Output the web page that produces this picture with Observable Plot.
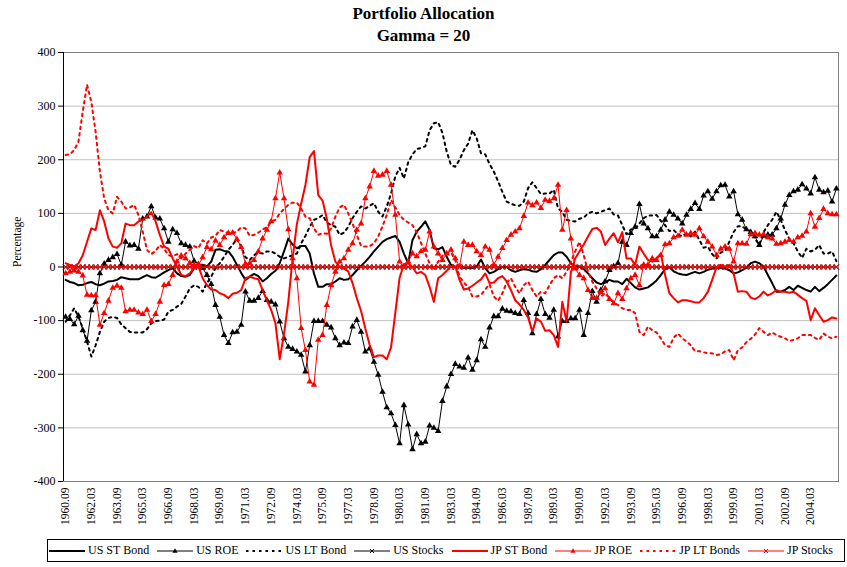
<!DOCTYPE html>
<html><head><meta charset="utf-8">
<script src="https://cdn.jsdelivr.net/npm/d3@7"></script>
<script src="https://cdn.jsdelivr.net/npm/@observablehq/plot@0.6"></script>
<style>
body{margin:0;background:#fff;}
#page{position:relative;width:847px;height:567px;font-family:"Liberation Serif","Times New Roman",serif;color:#000;}
#title{position:absolute;top:3px;left:0;width:847px;text-align:center;font-weight:bold;font-size:17px;line-height:22px;}
#chart{position:absolute;top:45px;left:0;}
#legend{position:absolute;left:47px;top:539px;width:798px;height:23px;border:1px solid #000;box-sizing:border-box;display:flex;align-items:center;padding-left:1px;font-size:12px;white-space:nowrap;}
.item{display:flex;align-items:center;margin-right:8px;}
.item svg{margin-right:3px;display:block;}
</style></head><body>
<div id="page"><div id="title">Portfolio Allocation<br>Gamma = 20</div><div id="chart"></div><div id="legend"></div></div>
<script>
// quarterly categories 1960.09 ... 2005.09
const startYear = 1960, startMonth = 9, nQuarters = 181;
const quarters = [];
for (let i = 0; i < nQuarters; i++) {
  const m = startYear * 12 + (startMonth - 1) + 3 * i;
  quarters.push(Math.floor(m / 12) + "." + String(m % 12 + 1).padStart(2, "0"));
}
const tickLabels = ["1960.09","1962.03","1963.09","1965.03","1966.09","1968.03","1969.09","1971.03","1972.09","1974.03","1975.09","1977.03","1978.09","1980.03","1981.09","1983.03","1984.09","1986.03","1987.09","1989.03","1990.09","1992.03","1993.09","1995.03","1996.09","1998.03","1999.09","2001.03","2002.09","2004.03"];
const yTicks = [-400,-300,-200,-100,0,100,200,300,400];

const usSTBond = [
-24,-28,-30,-34,-33,-30,-28,-32,-34,-31,
-27,-26,-24,-19,-21,-23,-23,-23,-19,-15,
-19,-20,-15,-10,-6,-2,-12,-17,-18,-15,
-2,4,4,1,10,32,33,30,29,19,
4,-11,-24,-18,-13,-17,-27,-21,-13,-7,
7,29,53,42,35,39,39,25,-12,-37,
-37,-32,-32,-27,-21,-24,-23,-15,-6,2,
10,19,29,38,47,52,55,58,47,25,
7,50,66,75,85,69,35,33,37,19,
4,0,0,-2,-2,-2,1,14,-2,-12,
-9,-4,0,0,-6,-9,-6,-4,-5,-8,
-9,-4,4,13,22,27,27,19,7,1,
1,-4,-12,-21,-29,-32,-29,-24,-27,-27,
-32,-22,-30,-38,-42,-40,-38,-32,-25,-15,
-4,0,-8,-12,-14,-15,-12,-9,-12,-9,
-5,-3,-2,-2,-3,-6,-12,-10,-6,-1,
7,10,7,1,-15,-30,-46,-46,-43,-37,
-43,-35,-39,-43,-46,-37,-45,-39,-32,-24,
-16];

const usROE = [
-93,-97,-107,-91,-118,-138,-81,-65,-12,6,
13,18,24,4,47,40,41,34,90,94,
113,92,90,72,47,70,63,44,41,38,
11,5,-2,-15,-32,-71,-93,-127,-142,-122,
-121,-108,-46,-63,-63,-58,-45,-62,-65,-70,
-102,-133,-149,-153,-158,-164,-195,-146,-101,-101,
-101,-108,-113,-133,-146,-141,-142,-111,-99,-121,
-158,-152,-177,-201,-233,-262,-273,-295,-329,-258,
-294,-340,-312,-329,-326,-296,-300,-306,-250,-223,
-200,-181,-186,-188,-169,-192,-174,-135,-149,-113,
-92,-92,-78,-82,-83,-86,-88,-62,-86,-124,
-88,-60,-88,-95,-80,-130,-101,-101,-96,-96,
-80,-127,-86,-45,-65,-43,-27,-6,1,7,
47,41,63,75,117,81,72,57,57,69,
88,103,97,90,81,97,108,119,108,133,
141,127,141,152,153,131,141,98,88,70,
65,57,41,58,60,60,72,90,116,134,
141,144,154,146,137,167,144,139,142,122,
146];

const usLTBond = [
-102,-90,-77,-93,-114,-139,-167,-146,-121,-102,
-95,-93,-95,-107,-114,-121,-122,-122,-122,-116,
-105,-101,-100,-98,-83,-80,-74,-69,-55,-40,
-34,-37,-46,-30,-18,-2,7,19,32,41,
53,38,18,13,22,27,25,29,29,25,
19,16,19,22,25,44,58,75,88,91,
97,83,78,75,60,64,75,91,103,113,
109,114,119,103,94,113,137,169,185,165,
195,210,220,222,225,255,268,270,250,215,
190,187,200,218,230,255,240,212,210,192,
178,160,140,122,118,115,114,122,147,158,
147,136,137,137,144,109,103,88,86,85,
90,92,100,103,100,103,106,109,98,96,
78,61,70,71,81,91,96,96,97,86,
78,67,69,61,57,63,57,66,50,36,
38,24,16,27,30,47,65,76,76,70,
67,53,41,65,78,88,103,88,69,53,
44,29,17,34,29,32,41,25,25,29,
11];

const usStocks = [
0,0,0,0,0,0,0,0,0,0, 0,0,0,0,0,0,0,0,0,0, 0,0,0,0,0,0,0,0,0,0,
0,0,0,0,0,0,0,0,0,0, 0,0,0,0,0,0,0,0,0,0, 0,0,0,0,0,0,0,0,0,0,
0,0,0,0,0,0,0,0,0,0, 0,0,0,0,0,0,0,0,0,0, 0,0,0,0,0,0,0,0,0,0,
0,0,0,0,0,0,0,0,0,0, 0,0,0,0,0,0,0,0,0,0, 0,0,0,0,0,0,0,0,0,0,
0,0,0,0,0,0,0,0,0,0, 0,0,0,0,0,0,0,0,0,0, 0,0,0,0,0,0,0,0,0,0,
0,0,0,0,0,0,0,0,0,0, 0,0,0,0,0,0,0,0,0,0, 0,0,0,0,0,0,0,0,0,0,
0];

const jpSTBond = [
7,4,1,7,22,47,72,69,106,85,
53,38,36,44,81,78,78,85,88,94,
102,85,60,38,34,16,1,-15,-17,-12,
-2,1,-21,-34,-42,-43,-49,-52,-58,-50,
-48,-43,-21,-18,-21,-23,-43,-62,-80,-105,
-172,-125,-65,15,80,118,153,205,216,134,
124,90,40,10,0,-3,-8,-30,-58,-82,
-115,-145,-168,-165,-165,-172,-150,-85,-20,5,
7,0,-12,-9,-15,-37,-65,-21,-15,-7,
1,1,-24,-42,-40,-35,-29,-23,-12,-30,
-29,-21,-17,-27,-43,-62,-70,-80,-94,-120,
-96,-102,-119,-118,-127,-149,-65,-102,-10,16,
29,42,57,71,73,66,41,53,63,46,
65,16,16,4,38,25,13,10,16,25,
-15,-49,-58,-66,-62,-62,-64,-66,-66,-58,
-46,-24,-1,4,1,4,-12,-46,-45,-46,
-57,-60,-55,-46,-53,-49,-43,-46,-46,-48,
-46,-52,-58,-63,-99,-77,-90,-102,-99,-94,
-96];

const jpROE = [
-12,-9,-7,-9,-16,-52,-53,-53,-108,-86,
-63,-39,-35,-39,-83,-80,-80,-85,-88,-80,
-101,-88,-65,-34,-32,-15,10,21,16,7,
4,4,18,37,33,49,41,55,63,64,
52,37,6,7,13,29,53,69,85,128,
176,128,70,16,-21,-114,-155,-214,-220,-136,
-127,-71,-34,-9,10,16,32,44,69,81,
128,150,179,170,172,179,153,97,10,0,
10,25,20,29,32,66,38,25,13,25,
32,16,1,47,41,41,29,22,38,32,
4,19,35,50,60,66,72,95,120,115,
120,110,125,123,128,153,69,106,53,-3,
-15,-21,-43,-58,-58,-47,-40,-60,-68,-49,
-60,-40,-21,-15,-34,4,4,16,13,22,
42,44,55,58,69,60,63,60,72,57,
47,38,22,34,38,34,10,44,44,43,
61,63,60,61,55,53,43,44,47,50,
47,55,58,66,100,75,91,108,100,98,
98];

const jpLTBonds = [
209,210,218,234,290,340,308,252,178,128,
106,100,131,122,109,111,116,97,66,32,
24,30,41,34,22,20,24,16,25,32,
39,35,50,44,55,58,69,66,63,63,
66,74,72,58,60,64,70,74,85,88,
100,108,116,120,120,109,94,91,72,60,
63,62,72,94,111,116,100,81,60,39,
38,39,44,57,76,97,125,111,97,88,
83,78,65,45,25,7,-6,10,21,25,
27,13,-18,-29,-37,-55,-55,-52,-42,-32,
-55,-63,-49,-29,-21,-37,-49,-34,-27,-43,
-55,-46,-49,-34,-21,-15,-21,-9,10,29,
47,22,-9,-27,-40,-55,-49,-58,-66,-71,
-77,-80,-80,-86,-121,-127,-111,-118,-122,-133,
-146,-149,-132,-124,-133,-139,-146,-157,-157,-159,
-161,-161,-164,-163,-157,-155,-174,-155,-150,-140,
-134,-126,-114,-121,-127,-122,-127,-130,-133,-138,
-136,-133,-127,-127,-127,-132,-136,-124,-130,-133,
-130];

const jpStocks = [
0,0,0,0,0,0,0,0,0,0, 0,0,0,0,0,0,0,0,0,0, 0,0,0,0,0,0,0,0,0,0,
0,0,0,0,0,0,0,0,0,0, 0,0,0,0,0,0,0,0,0,0, 0,0,0,0,0,0,0,0,0,0,
0,0,0,0,0,0,0,0,0,0, 0,0,0,0,0,0,0,0,0,0, 0,0,0,0,0,0,0,0,0,0,
0,0,0,0,0,0,0,0,0,0, 0,0,0,0,0,0,0,0,0,0, 0,0,0,0,0,0,0,0,0,0,
0,0,0,0,0,0,0,0,0,0, 0,0,0,0,0,0,0,0,0,0, 0,0,0,0,0,0,0,0,0,0,
0,0,0,0,0,0,0,0,0,0, 0,0,0,0,0,0,0,0,0,0, 0,0,0,0,0,0,0,0,0,0,
0];

const series = [
  {name: "US ST Bond", values: usSTBond, color: "#000000", width: 2},
  {name: "US ROE", values: usROE, color: "#000000", width: 1, symbol: "triangle"},
  {name: "US LT Bond", values: usLTBond, color: "#000000", width: 2, dash: "2.5,4"},
  {name: "US Stocks", values: usStocks, color: "#000000", width: 1, symbol: "times"},
  {name: "JP ST Bond", values: jpSTBond, color: "#ff0000", width: 2},
  {name: "JP ROE", values: jpROE, color: "#ff0000", width: 1, symbol: "triangle"},
  {name: "JP LT Bonds", values: jpLTBonds, color: "#ff0000", width: 2, dash: "2.5,4"},
  {name: "JP Stocks", values: jpStocks, color: "#ff0000", width: 1, symbol: "times"}
];

const idx = (d, i) => i;
const val = d => d;
const tickIdx = tickLabels.map(l => quarters.indexOf(l));

const marks = [
  Plot.gridY(yTicks, {stroke: "#c0c0c0", strokeOpacity: 1}),
  Plot.frame({stroke: "#808080"}),
  Plot.ruleX([-0.5], {stroke: "#000000"}),
  Plot.axisY(yTicks, {tickSize: 5, tickPadding: 3, tickFormat: d => String(d), label: null, fontSize: 12}),
  Plot.axisX(tickIdx, {anchor: "bottom", tickFormat: i => quarters[i], tickRotate: -90, tickSize: 0, tickPadding: 6, label: null, fontSize: 11.5}),
  Plot.text(["Percentage"], {text: val, frameAnchor: "left", dx: -46, rotate: -90, fontSize: 11.5})
];
for (const s of series) {
  marks.push(Plot.lineY(s.values, {x: idx, y: val, stroke: s.color, strokeWidth: s.width, strokeDasharray: s.dash, strokeLinejoin: "round"}));
  if (s.symbol === "triangle") marks.push(Plot.dot(s.values, {x: idx, y: val, symbol: "triangle", r: 2.4, fill: s.color, stroke: "none"}));
  if (s.symbol === "times") marks.push(Plot.dot(s.values, {x: idx, y: val, symbol: "times", r: 2.4, stroke: s.color, strokeWidth: 1}));
}

const chart = Plot.plot({
  width: 847, height: 485,
  marginTop: 7, marginLeft: 63, marginRight: 9, marginBottom: 49,
  style: {fontFamily: "'Liberation Serif','Times New Roman',serif", fontSize: "12px", background: "white", color: "#000", overflow: "visible"},
  x: {type: "linear", domain: [-0.5, 180.5]},
  y: {domain: [-400, 400]},
  marks
});
document.getElementById("chart").appendChild(chart);

// legend below the chart
const legend = document.getElementById("legend");
for (const s of series) {
  const item = document.createElement("div");
  item.className = "item";
  const ns = "http://www.w3.org/2000/svg";
  const svg = document.createElementNS(ns, "svg");
  svg.setAttribute("width", 36); svg.setAttribute("height", 10);
  const line = document.createElementNS(ns, "line");
  line.setAttribute("x1", 0); line.setAttribute("x2", 36); line.setAttribute("y1", 5); line.setAttribute("y2", 5);
  line.setAttribute("stroke", s.color); line.setAttribute("stroke-width", s.width);
  if (s.dash) line.setAttribute("stroke-dasharray", s.dash);
  svg.appendChild(line);
  if (s.symbol === "triangle") {
    const p = document.createElementNS(ns, "path");
    p.setAttribute("d", "M18,2.3L20.6,6.8L15.4,6.8Z"); p.setAttribute("fill", s.color);
    svg.appendChild(p);
  } else if (s.symbol === "times") {
    const p = document.createElementNS(ns, "path");
    p.setAttribute("d", "M16,3L20,7M20,3L16,7"); p.setAttribute("stroke", s.color); p.setAttribute("stroke-width", 1);
    svg.appendChild(p);
  }
  item.appendChild(svg);
  const t = document.createElement("span");
  t.textContent = s.name;
  item.appendChild(t);
  legend.appendChild(item);
}
</script>
</body></html>
